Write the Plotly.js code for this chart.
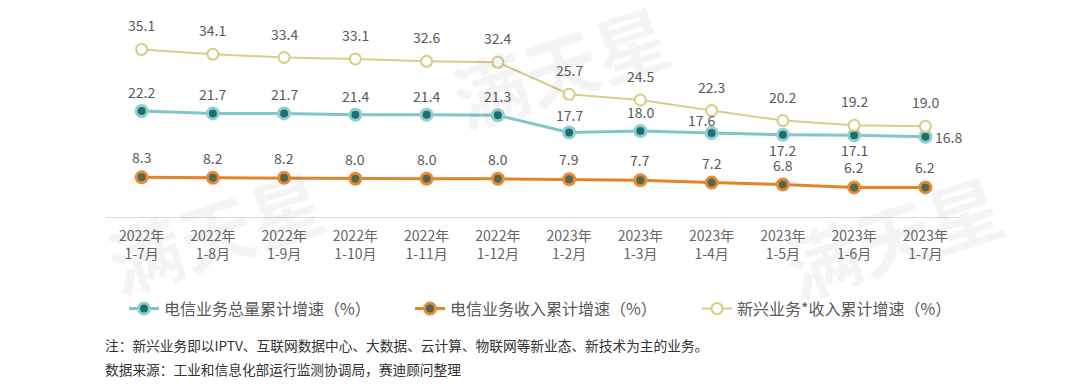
<!DOCTYPE html>
<html><head><meta charset="utf-8">
<script src="https://cdn.plot.ly/plotly-3.0.1.min.js"></script>
<style>html,body{margin:0;padding:0;background:#fff;}#chart{width:1080px;height:388px;}</style>
</head><body><div id="chart"></div>
<script>
const categories = ['2022年<br>1-7月','2022年<br>1-8月','2022年<br>1-9月','2022年<br>1-10月','2022年<br>1-11月','2022年<br>1-12月','2023年<br>1-2月','2023年<br>1-3月','2023年<br>1-4月','2023年<br>1-5月','2023年<br>1-6月','2023年<br>1-7月'];
const totalVolume = [22.2,21.7,21.7,21.4,21.4,21.3,17.7,18.0,17.6,17.2,17.1,16.8];
const revenue = [8.3,8.2,8.2,8.0,8.0,8.0,7.9,7.7,7.2,6.8,6.2,6.2];
const emerging = [35.1,34.1,33.4,33.1,32.6,32.4,25.7,24.5,22.3,20.2,19.2,19.0];
const seriesNames = ['电信业务总量累计增速（%）','电信业务收入累计增速（%）','新兴业务*收入累计增速（%）'];
const noteText = '注：新兴业务即以IPTV、互联网数据中心、大数据、云计算、物联网等新业态、新技术为主的业务。';
const sourceText = '数据来源：工业和信息化部运行监测协调局，赛迪顾问整理';
const watermarkText = '满天星';

const FONT = '"Noto Sans CJK SC","Noto Sans",sans-serif';
const labelColor = '#595959';

const traces = [
  {x: categories, y: totalVolume, name: seriesNames[0], type:'scatter', mode:'lines+markers', legend:'legend',
   line:{color:'#82c6c8', width:3}, marker:{size:11, color:'#1d6f72', line:{color:'#8fcfd2', width:3}}},
  {x: categories, y: revenue, name: seriesNames[1], type:'scatter', mode:'lines+markers', legend:'legend2',
   line:{color:'#e5822c', width:3}, marker:{size:11, color:'#4f6a4c', line:{color:'#ea8a34', width:3}}},
  {x: categories, y: emerging, name: seriesNames[2], type:'scatter', mode:'lines+markers', legend:'legend3',
   line:{color:'#d8cd8c', width:2}, marker:{size:11, color:'#ffffff', line:{color:'#d8cc84', width:2}}}
];

// label placement per point for the first series
const blueShift = [[0,19],[0,19],[0,19],[0,19],[0,19],[0,19],[0,17],[0,19],[-10,13],[0,-15],[0,-15],[23,0]];

const annotations = [];
// faint watermarks
[[0.128,-0.068],[0.531,0.80],[0.92,-0.094]].forEach(p=>annotations.push({xref:'paper',yref:'paper',x:p[0],y:p[1],
  xanchor:'center', yanchor:'middle',
  text:'<b>'+watermarkText+'</b>', showarrow:false, textangle:-18, font:{family:FONT,size:74,color:'rgba(0,0,0,0.045)'}}));
const fmt = v => v.toFixed(1);
emerging.forEach((v,i)=>annotations.push({x:categories[i], y:v, text:fmt(v), showarrow:false, yshift:24,
  font:{family:FONT,size:14,color:labelColor}}));
totalVolume.forEach((v,i)=>annotations.push({x:categories[i], y:v, text:fmt(v), showarrow:false,
  xshift:blueShift[i][0], yshift:blueShift[i][1], font:{family:FONT,size:14,color:labelColor}}));
revenue.forEach((v,i)=>annotations.push({x:categories[i], y:v, text:fmt(v), showarrow:false, yshift:20,
  font:{family:FONT,size:14,color:labelColor}}));
annotations.push({xref:'paper', yref:'paper', x:-0.004, y:-0.67, xanchor:'left', yanchor:'middle', showarrow:false,
  text:noteText, font:{family:FONT,size:13.7,color:'#333333'}});
annotations.push({xref:'paper', yref:'paper', x:-0.004, y:-0.796, xanchor:'left', yanchor:'middle', showarrow:false,
  text:sourceText, font:{family:FONT,size:13.7,color:'#333333'}});

const legendBase = {orientation:'h', y:-0.48, xanchor:'left', yanchor:'middle',
  font:{family:FONT,size:16,color:labelColor}, bgcolor:'rgba(0,0,0,0)'};

const layout = {
  width:1080, height:388,
  margin:{l:106, r:119, t:26, b:171},
  paper_bgcolor:'#ffffff', plot_bgcolor:'#ffffff',
  font:{family:FONT, color:labelColor},
  showlegend:true,
  legend: Object.assign({}, legendBase, {x:(124-106)/855}),
  legend2: Object.assign({}, legendBase, {x:(410-106)/855}),
  legend3: Object.assign({}, legendBase, {x:(697-106)/855}),
  xaxis:{type:'category', range:[-0.5,11.5], showgrid:false, zeroline:false, showline:true, linecolor:'#d9d9d9', linewidth:1,
    ticks:'', ticklabelstandoff:6, tickfont:{family:FONT,size:14,color:'#666666'}, fixedrange:true},
  yaxis:{range:[0,40], showgrid:false, zeroline:false, showline:false, showticklabels:false, ticks:'', fixedrange:true},
  annotations: annotations,
  hovermode:false
};
Plotly.newPlot('chart', traces, layout, {staticPlot:true, displayModeBar:false});
</script></body></html>
